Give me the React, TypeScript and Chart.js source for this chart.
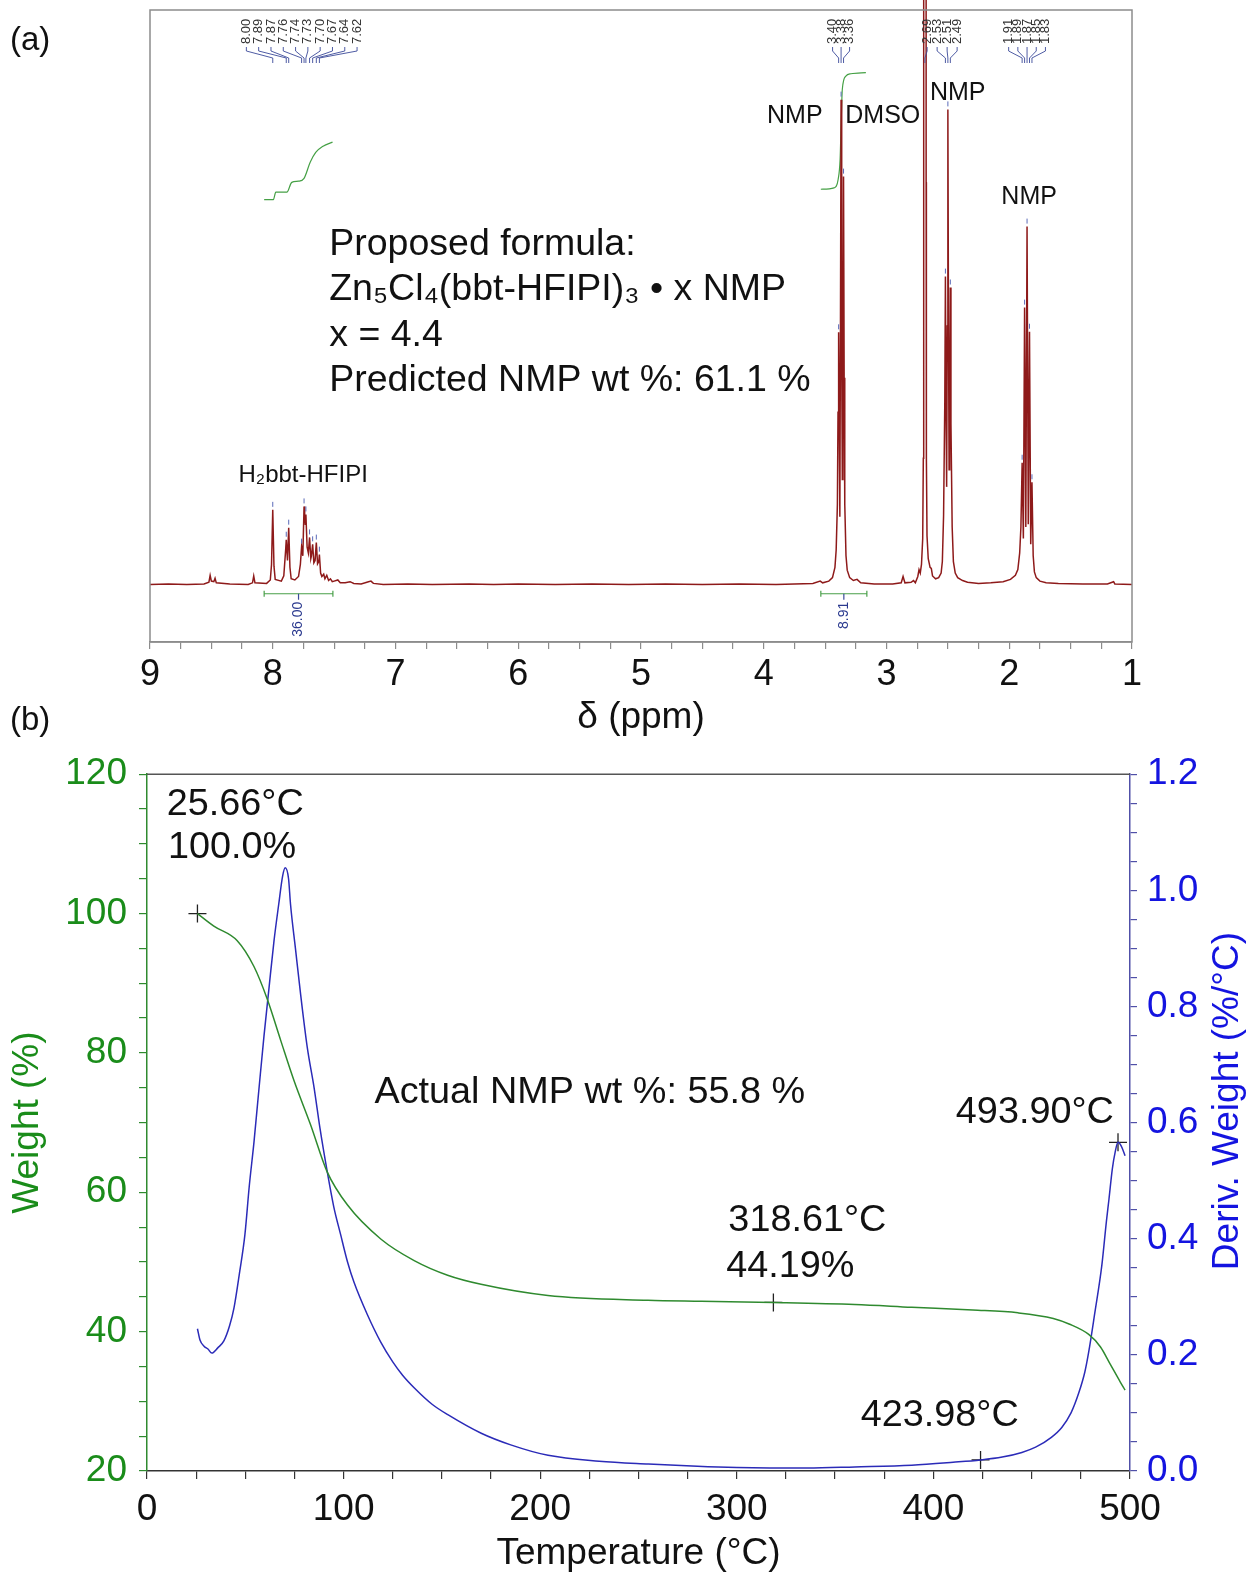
import React, { useEffect, useRef } from "react";
import { Chart, registerables } from "chart.js";

Chart.register(...registerables);

const FONT = "'Liberation Sans', Arial, Helvetica, sans-serif";

// ---------------- Panel (a): 1H NMR ----------------
const nmrPpm = [
  9.0, 8.85, 8.7, 8.56, 8.52, 8.51, 8.5, 8.48, 8.47, 8.46, 8.35, 8.2, 8.165, 8.155, 8.145,
  8.05, 8.02, 8.01, 8.0, 7.99, 7.98, 7.93, 7.91, 7.895, 7.89, 7.88, 7.87, 7.86, 7.85, 7.82,
  7.79, 7.775, 7.765, 7.755, 7.745, 7.74, 7.735, 7.73, 7.72, 7.71, 7.7, 7.69, 7.685, 7.675,
  7.665, 7.655, 7.645, 7.635, 7.625, 7.62, 7.61, 7.6, 7.585, 7.575, 7.56, 7.545, 7.53, 7.515,
  7.5, 7.47, 7.45, 7.41, 7.37, 7.34, 7.28, 7.22, 7.2, 7.18, 7.1, 6.9, 6.7, 6.4, 6.2, 6.0,
  5.7, 5.4, 5.1, 4.8, 4.5, 4.2, 3.9, 3.6, 3.54, 3.52, 3.47, 3.44, 3.42, 3.41, 3.4, 3.395,
  3.39, 3.385, 3.38, 3.375, 3.37, 3.365, 3.36, 3.355, 3.35, 3.345, 3.34, 3.33, 3.32, 3.3,
  3.27, 3.24, 3.21, 3.1, 2.95, 2.88, 2.865, 2.85, 2.8, 2.78, 2.765, 2.745, 2.735, 2.725,
  2.715, 2.705, 2.7, 2.698, 2.696, 2.679, 2.677, 2.675, 2.67, 2.66, 2.645, 2.635, 2.625, 2.6,
  2.575, 2.555, 2.545, 2.535, 2.525, 2.52, 2.515, 2.51, 2.505, 2.5, 2.495, 2.49, 2.485, 2.48,
  2.475, 2.465, 2.455, 2.44, 2.42, 2.38, 2.34, 2.25, 2.15, 2.05, 1.99, 1.95, 1.93, 1.915,
  1.905, 1.895, 1.885, 1.875, 1.865, 1.855, 1.845, 1.835, 1.825, 1.815, 1.805, 1.795, 1.78,
  1.75, 1.7, 1.6, 1.4, 1.2, 1.15, 1.14, 1.0,
];
const nmrInt = [
  0.0, 0.1, 0.0, 0.1, 0.4, 1.6, 0.6, 0.5, 1.1, 0.3, 0.1, 0.0, 0.3, 1.5, 0.3,
  0.2, 0.8, 3.5, 13.0, 3.2, 0.9, 0.6, 1.5, 6.0, 7.8, 4.2, 9.9, 3.0, 1.0, 0.8,
  1.4, 3.5, 6.6, 5.0, 13.6, 12.0, 10.5, 12.2, 6.5, 5.5, 8.2, 4.5, 5.0, 7.0,
  3.8, 4.2, 7.3, 3.6, 4.0, 5.2, 2.0, 1.4, 1.8, 1.0, 1.6, 0.7, 1.0, 0.5,
  0.6, 0.8, 0.3, 0.3, 0.5, 0.2, 0.1, 0.5, 0.6, 0.2, 0.0, 0.1, 0.0, 0.1, 0.0, 0.1,
  0.0, 0.1, 0.0, 0.1, 0.0, 0.1, 0.0, 0.2, 0.6, 0.3, 0.6, 1.2, 3.0, 6.0, 14.0, 30.0,
  43.9, 28.0, 11.8, 45.0, 84.4, 40.0, 18.3, 42.0, 71.0, 36.0, 14.0, 5.0, 2.5, 1.2,
  0.7, 0.9, 0.3, 0.1, 0.1, 0.3, 1.4, 0.3, 0.4, 0.7, 0.3, 1.4, 2.6, 2.0,
  3.5, 8.0, 22.0, 70.0, 400, 400, 70.0, 22.0, 8.5, 4.5, 3.0, 2.8, 1.5, 1.0,
  1.2, 2.0, 4.0, 12.0, 32.0, 53.6, 30.0, 17.0, 45.0, 82.7, 45.0, 20.0, 30.0, 51.7,
  28.0, 10.0, 4.0, 2.0, 1.2, 0.7, 0.4, 0.2, 0.3, 0.5, 0.9, 1.6, 2.6, 5.5,
  10.0, 21.2, 8.0, 48.2, 10.0, 62.3, 10.5, 44.0, 7.0, 17.8, 5.0, 2.2, 1.2,
  0.6, 0.3, 0.2, 0.1, 0.1, 0.5, 0.1, 0.0,
];

// integration traces
const integ1Ppm = [8.07, 7.995, 7.975, 7.885, 7.845, 7.79, 7.745, 7.695, 7.65, 7.59, 7.513];
const integ1Val = [67.0, 67.0, 68.3, 68.3, 70.0, 70.2, 70.7, 73.5, 75.2, 76.3, 77.0];
const integ2Ppm = [3.535, 3.427, 3.394, 3.378, 3.37, 3.36, 3.331, 3.29, 3.168];
const integ2Val = [68.8, 69.05, 70.5, 74.0, 79.8, 86.2, 88.5, 88.9, 89.1];

// integration bars
const integBarStart = [8.07, 3.535];
const integBarEnd = [7.51, 3.16];
const integBarLabel = ["36.00", "8.91"];

// picked peaks
const pickLabels = ["8.00", "7.89", "7.87", "7.76", "7.74", "7.73", "7.70", "7.67", "7.64", "7.62",
  "3.40", "3.38", "3.36", "2.69", "2.53", "2.51", "2.49", "1.91", "1.89", "1.87", "1.85", "1.83"];
const pickPpm = [8.0, 7.89, 7.87, 7.765, 7.745, 7.73, 7.7, 7.675, 7.645, 7.62,
  3.39, 3.37, 3.35, 2.687, 2.52, 2.5, 2.48, 1.895, 1.875, 1.855, 1.835, 1.815];
const pickGroup = [0, 0, 0, 0, 0, 0, 0, 0, 0, 0, 1, 1, 1, 2, 2, 2, 2, 3, 3, 3, 3, 3];
const pickGroupSpacing = [12.3, 8.5, 10, 9.2];

// notes
const nmrNoteText = ["NMP", "DMSO", "NMP", "NMP", "H₂bbt-HFIPI"];
const nmrNotePpm = [3.747, 3.03, 2.42, 1.838, 7.752];
const nmrNoteInt = [81.6, 81.6, 85.6, 67.5, 19.0];
const nmrNoteSize = [25, 25, 25, 25, 24];
const formulaLines = ["Proposed formula:", "Zn₅Cl₄(bbt-HFIPI)₃ • x NMP", "x = 4.4", "Predicted NMP wt %: 61.1 %"];
const formulaPpm = 7.54;
const formulaInt = [59.2, 51.3, 43.3, 35.5];

// ---------------- Panel (b): TGA ----------------
const weightT = [25.66, 34, 45.9, 54.4, 61.2, 68, 74.8, 83.2, 91.7, 101.9, 118.9, 135.9, 152.9, 169.9,
  203.9, 254.8, 282, 318.61, 360, 389, 420, 443, 461, 469, 479, 485, 490, 495, 497.5];
const weightW = [100.0, 98.2, 96.1, 92.4, 87.7, 81.8, 76.0, 69.7, 62.9, 58.2, 53.3, 50.2, 48.1, 46.8,
  45.2, 44.5, 44.36, 44.19, 43.9, 43.5, 43.1, 42.7, 41.9, 41.1, 39.6, 37.8, 35.3, 32.8, 31.6];

const derivT = [25.66, 27, 29, 31, 33, 36, 39.1, 42, 44.2, 47, 49.8, 52, 54.4, 57, 59.5, 62, 64.6, 67,
  69, 70.3, 72, 73, 75.5, 78.2, 81.5, 85, 88, 91.7, 95, 98.5, 102, 105.3, 112, 118.9, 125, 130, 136,
  145, 153, 170, 185, 204, 230, 255, 280, 300, 336, 360, 389, 410, 424, 435, 445, 452, 460, 465.3,
  470, 474, 477, 479, 482, 485.7, 488, 489.3, 491, 492.5, 493.9, 495.5, 497.5];
const derivD = [0.245, 0.225, 0.215, 0.21, 0.203, 0.212, 0.224, 0.25, 0.28, 0.34, 0.407, 0.49, 0.566,
  0.66, 0.749, 0.83, 0.913, 0.976, 1.025, 1.039, 1.02, 0.976, 0.9, 0.819, 0.73, 0.66, 0.59, 0.515,
  0.455, 0.407, 0.36, 0.325, 0.27, 0.222, 0.188, 0.165, 0.143, 0.115, 0.097, 0.065, 0.045, 0.027,
  0.017, 0.012, 0.008, 0.006, 0.005, 0.007, 0.01, 0.015, 0.019, 0.024, 0.032, 0.041, 0.058, 0.075,
  0.1, 0.135, 0.17, 0.205, 0.27, 0.355, 0.43, 0.468, 0.52, 0.55, 0.566, 0.56, 0.543];

const weightMarkT = [25.66, 318.61];
const weightMarkW = [100.0, 44.19];
const derivMarkT = [423.98, 493.9];
const derivMarkD = [0.019, 0.566];

const tgaNoteText = ["25.66°C", "100.0%", "Actual NMP wt %: 55.8 %", "318.61°C", "44.19%", "423.98°C", "493.90°C"];
const tgaNoteT = [44.9, 43.3, 115.7, 335.9, 327.2, 403.2, 451.6];
const tgaNoteW = [115.6, 109.5, 74.3, 56.0, 49.3, 28.0, 71.4];
const tgaNoteAlign = ["center", "center", "left", "center", "center", "center", "center"];

const GREEN_LINE = "#2f8a2f";
const GREEN_TEXT = "#1a8c1a";
const BLUE_LINE = "#2b2bb8";
const BLUE_TEXT = "#1414e0";
const BLUE_AXIS = "#5050a8";

function nearestInt(p: number): number {
  let best = 0;
  let bd = Infinity;
  for (let i = 0; i < nmrPpm.length; i++) {
    const d = Math.abs(nmrPpm[i] - p);
    if (d < bd) { bd = d; best = i; }
  }
  return nmrInt[best];
}

const nmrPlugin = {
  id: "nmrDecor",
  afterDatasetsDraw(chart: any) {
    const { ctx, chartArea, scales } = chart;
    const x = scales.x;
    const y = scales.y;
    ctx.save();
    // frame
    ctx.strokeStyle = "#8c8c8c";
    ctx.lineWidth = 1.5;
    ctx.strokeRect(chartArea.left, chartArea.top, chartArea.right - chartArea.left, chartArea.bottom - chartArea.top);

    // peak pick labels
    const groups = Array.from(new Set(pickGroup));
    groups.forEach((g) => {
      const idx = pickGroup.map((v, i) => (v === g ? i : -1)).filter((i) => i >= 0);
      const cx = idx.reduce((s, i) => s + x.getPixelForValue(pickPpm[i]), 0) / idx.length;
      const n = idx.length;
      idx.forEach((i, k) => {
        const lx = cx + (k - (n - 1) / 2) * pickGroupSpacing[g];
        const px = x.getPixelForValue(pickPpm[i]);
        const t0 = chartArea.top;
        ctx.save();
        ctx.translate(lx, t0 + 34);
        ctx.rotate(-Math.PI / 2);
        ctx.fillStyle = "#333";
        ctx.font = `13px ${FONT}`;
        ctx.textAlign = "left";
        ctx.textBaseline = "middle";
        ctx.fillText(pickLabels[i], 0, 0);
        ctx.restore();
        ctx.strokeStyle = "#3b4a9a";
        ctx.lineWidth = 0.9;
        ctx.beginPath();
        ctx.moveTo(lx, t0 + 37);
        ctx.lineTo(lx, t0 + 41);
        ctx.lineTo(px, t0 + 48);
        ctx.lineTo(px, t0 + 53);
        ctx.stroke();
        // marker above peak top
        const h = nearestInt(pickPpm[i]);
        if (h < 95) {
          const py = y.getPixelForValue(h);
          ctx.strokeStyle = "#5a6ab8";
          ctx.lineWidth = 1;
          ctx.beginPath();
          ctx.moveTo(px, py - 8);
          ctx.lineTo(px, py - 3);
          ctx.stroke();
        }
      });
    });

    // integration bars
    for (let i = 0; i < integBarStart.length; i++) {
      const xs = x.getPixelForValue(integBarStart[i]);
      const xe = x.getPixelForValue(integBarEnd[i]);
      const by = y.getPixelForValue(-1.6);
      const cx = (xs + xe) / 2;
      ctx.strokeStyle = "#4aa04a";
      ctx.lineWidth = 1.2;
      ctx.beginPath();
      ctx.moveTo(xs, by); ctx.lineTo(xe, by);
      ctx.moveTo(xs, by - 3); ctx.lineTo(xs, by + 3);
      ctx.moveTo(xe, by - 3); ctx.lineTo(xe, by + 3);
      ctx.stroke();
      ctx.strokeStyle = "#3b4a9a";
      ctx.beginPath();
      ctx.moveTo(cx, by); ctx.lineTo(cx, by + 6);
      ctx.stroke();
      ctx.save();
      ctx.translate(cx, by + 8);
      ctx.rotate(-Math.PI / 2);
      ctx.fillStyle = "#2b3a8f";
      ctx.font = `14px ${FONT}`;
      ctx.textAlign = "right";
      ctx.textBaseline = "middle";
      ctx.fillText(integBarLabel[i], 0, 0);
      ctx.restore();
    }

    // notes
    ctx.fillStyle = "#111";
    ctx.textBaseline = "middle";
    for (let i = 0; i < nmrNoteText.length; i++) {
      ctx.font = `${nmrNoteSize[i]}px ${FONT}`;
      ctx.textAlign = "center";
      ctx.fillText(nmrNoteText[i], x.getPixelForValue(nmrNotePpm[i]), y.getPixelForValue(nmrNoteInt[i]));
    }
    ctx.font = `37.5px ${FONT}`;
    ctx.textAlign = "left";
    for (let i = 0; i < formulaLines.length; i++) {
      ctx.fillText(formulaLines[i], x.getPixelForValue(formulaPpm), y.getPixelForValue(formulaInt[i]));
    }
    ctx.restore();
  },
};

const tgaPlugin = {
  id: "tgaDecor",
  afterDatasetsDraw(chart: any) {
    const { ctx, chartArea, scales } = chart;
    const x = scales.x;
    const y = scales.y;
    ctx.save();
    ctx.strokeStyle = "#555";
    ctx.lineWidth = 1.5;
    ctx.beginPath();
    ctx.moveTo(chartArea.left, chartArea.top);
    ctx.lineTo(chartArea.right, chartArea.top);
    ctx.stroke();

    ctx.fillStyle = "#111";
    ctx.font = `37.8px ${FONT}`;
    ctx.textBaseline = "middle";
    for (let i = 0; i < tgaNoteText.length; i++) {
      ctx.textAlign = tgaNoteAlign[i] as CanvasTextAlign;
      ctx.fillText(tgaNoteText[i], x.getPixelForValue(tgaNoteT[i]), y.getPixelForValue(tgaNoteW[i]));
    }

    // right axis title (reads bottom-to-top)
    ctx.save();
    ctx.translate(1228, 361);
    ctx.rotate(-Math.PI / 2);
    ctx.fillStyle = BLUE_TEXT;
    ctx.textAlign = "center";
    ctx.textBaseline = "middle";
    ctx.font = `37px ${FONT}`;
    ctx.fillText("Deriv. Weight (%/°C)", 0, 0);
    ctx.restore();
    ctx.restore();
  },
};

export default function App() {
  const refA = useRef<HTMLCanvasElement>(null);
  const refB = useRef<HTMLCanvasElement>(null);

  useEffect(() => {
    document.body.style.margin = "0";
    Chart.defaults.font.family = FONT;

    const chartA = new Chart(refA.current as HTMLCanvasElement, {
      type: "line",
      data: {
        datasets: [
          {
            data: nmrPpm.map((p, i) => ({ x: p, y: nmrInt[i] })),
            borderColor: "#8e1a1a",
            borderWidth: 1.5,
            pointRadius: 0,
            tension: 0,
            clip: { left: 0, top: false, right: 0, bottom: 0 } as any,
          },
          {
            data: integ1Ppm.map((p, i) => ({ x: p, y: integ1Val[i] })),
            borderColor: "#45a045",
            borderWidth: 1.2,
            pointRadius: 0,
            cubicInterpolationMode: "monotone",
          },
          {
            data: integ2Ppm.map((p, i) => ({ x: p, y: integ2Val[i] })),
            borderColor: "#45a045",
            borderWidth: 1.2,
            pointRadius: 0,
            cubicInterpolationMode: "monotone",
          },
        ],
      },
      options: {
        animation: false,
        responsive: false,
        maintainAspectRatio: false,
        layout: { padding: { left: 150, right: 120, top: 10, bottom: 0 } },
        plugins: { legend: { display: false }, tooltip: { enabled: false } },
        scales: {
          x: {
            type: "linear",
            min: 1,
            max: 9,
            reverse: true,
            ticks: {
              stepSize: 0.25,
              autoSkip: false,
              maxRotation: 0,
              padding: 4,
              color: "#111",
              font: { size: 36, family: FONT },
              callback: (v: any) => (Math.abs(v - Math.round(v)) < 1e-6 ? String(Math.round(v)) : ""),
            },
            grid: { drawOnChartArea: false, tickLength: 7, color: "#8c8c8c", lineWidth: 1.2 },
            border: { color: "#8c8c8c", width: 1.5 },
            title: {
              display: true,
              text: "δ (ppm)",
              color: "#111",
              font: { size: 37, family: FONT },
              padding: { top: 0, bottom: 0 },
            },
            afterFit: (s: any) => { s.height = 98; },
          },
          y: { display: false, min: -10, max: 100 },
        },
      },
      plugins: [nmrPlugin],
    } as any);

    const chartB = new Chart(refB.current as HTMLCanvasElement, {
      type: "line",
      data: {
        datasets: [
          {
            data: weightT.map((t, i) => ({ x: t, y: weightW[i] })),
            yAxisID: "y",
            borderColor: GREEN_LINE,
            borderWidth: 1.5,
            pointRadius: 0,
            cubicInterpolationMode: "monotone",
          },
          {
            data: derivT.map((t, i) => ({ x: t, y: derivD[i] })),
            yAxisID: "y1",
            borderColor: BLUE_LINE,
            borderWidth: 1.5,
            pointRadius: 0,
            cubicInterpolationMode: "monotone",
          },
          {
            data: weightMarkT.map((t, i) => ({ x: t, y: weightMarkW[i] })),
            yAxisID: "y",
            showLine: false,
            pointStyle: "cross",
            pointRadius: 9,
            pointBorderWidth: 1.3,
            pointBorderColor: "#222",
            borderColor: "#222",
          },
          {
            data: derivMarkT.map((t, i) => ({ x: t, y: derivMarkD[i] })),
            yAxisID: "y1",
            showLine: false,
            pointStyle: "cross",
            pointRadius: 9,
            pointBorderWidth: 1.3,
            pointBorderColor: "#222",
            borderColor: "#222",
          },
        ],
      },
      options: {
        animation: false,
        responsive: false,
        maintainAspectRatio: false,
        layout: { padding: { left: 0, right: 0, top: 29, bottom: 0 } },
        plugins: { legend: { display: false }, tooltip: { enabled: false } },
        scales: {
          x: {
            type: "linear",
            min: 0,
            max: 500,
            ticks: {
              stepSize: 25,
              autoSkip: false,
              maxRotation: 0,
              padding: 9,
              color: "#111",
              font: { size: 37, family: FONT },
              callback: (v: any) => (Math.abs(v % 100) < 1e-6 ? String(v) : ""),
            },
            grid: { drawOnChartArea: false, tickLength: 8, color: "#333", lineWidth: 1.2 },
            border: { color: "#333", width: 1.5 },
            title: {
              display: true,
              text: "Temperature (°C)",
              color: "#111",
              font: { size: 37, family: FONT },
              padding: { top: 0, bottom: -4 },
            },
            afterFit: (s: any) => { s.height = 101; },
          },
          y: {
            position: "left",
            min: 20,
            max: 120,
            ticks: {
              stepSize: 5,
              autoSkip: false,
              padding: 12,
              color: GREEN_TEXT,
              font: { size: 37, family: FONT },
              callback: (v: any) => (Math.abs(v % 20) < 1e-6 ? String(v) : ""),
            },
            grid: { drawOnChartArea: false, tickLength: 8, color: GREEN_LINE, lineWidth: 1.2 },
            border: { color: GREEN_LINE, width: 1.5 },
            title: {
              display: true,
              text: "Weight (%)",
              color: GREEN_TEXT,
              font: { size: 37, family: FONT },
              padding: { top: 6, bottom: 0 },
            },
            afterFit: (s: any) => { s.width = 147; },
          },
          y1: {
            position: "right",
            min: 0,
            max: 1.2,
            ticks: {
              stepSize: 0.05,
              autoSkip: false,
              padding: 10,
              color: BLUE_TEXT,
              font: { size: 37, family: FONT },
              callback: (v: any) => {
                const r = v / 0.2;
                return Math.abs(r - Math.round(r)) < 1e-6 ? Number(v).toFixed(1) : "";
              },
            },
            grid: { drawOnChartArea: false, tickLength: 7, color: BLUE_AXIS, lineWidth: 1.2 },
            border: { color: BLUE_AXIS, width: 1.5 },
            afterFit: (s: any) => { s.width = 122; },
          },
        },
      },
      plugins: [tgaPlugin],
    } as any);

    return () => {
      chartA.destroy();
      chartB.destroy();
    };
  }, []);

  return (
    <div style={{ position: "relative", width: 1252, height: 1572, background: "#fff", fontFamily: FONT, overflow: "hidden" }}>
      <canvas ref={refA} width={1252} height={740} style={{ position: "absolute", left: 0, top: 0, width: 1252, height: 740 }} />
      <canvas ref={refB} width={1252} height={832} style={{ position: "absolute", left: 0, top: 740, width: 1252, height: 832 }} />
      <div style={{ position: "absolute", left: 10, top: 22, fontSize: 33, lineHeight: "33px", color: "#111" }}>(a)</div>
      <div style={{ position: "absolute", left: 10, top: 702, fontSize: 33, lineHeight: "33px", color: "#111" }}>(b)</div>
    </div>
  );
}
